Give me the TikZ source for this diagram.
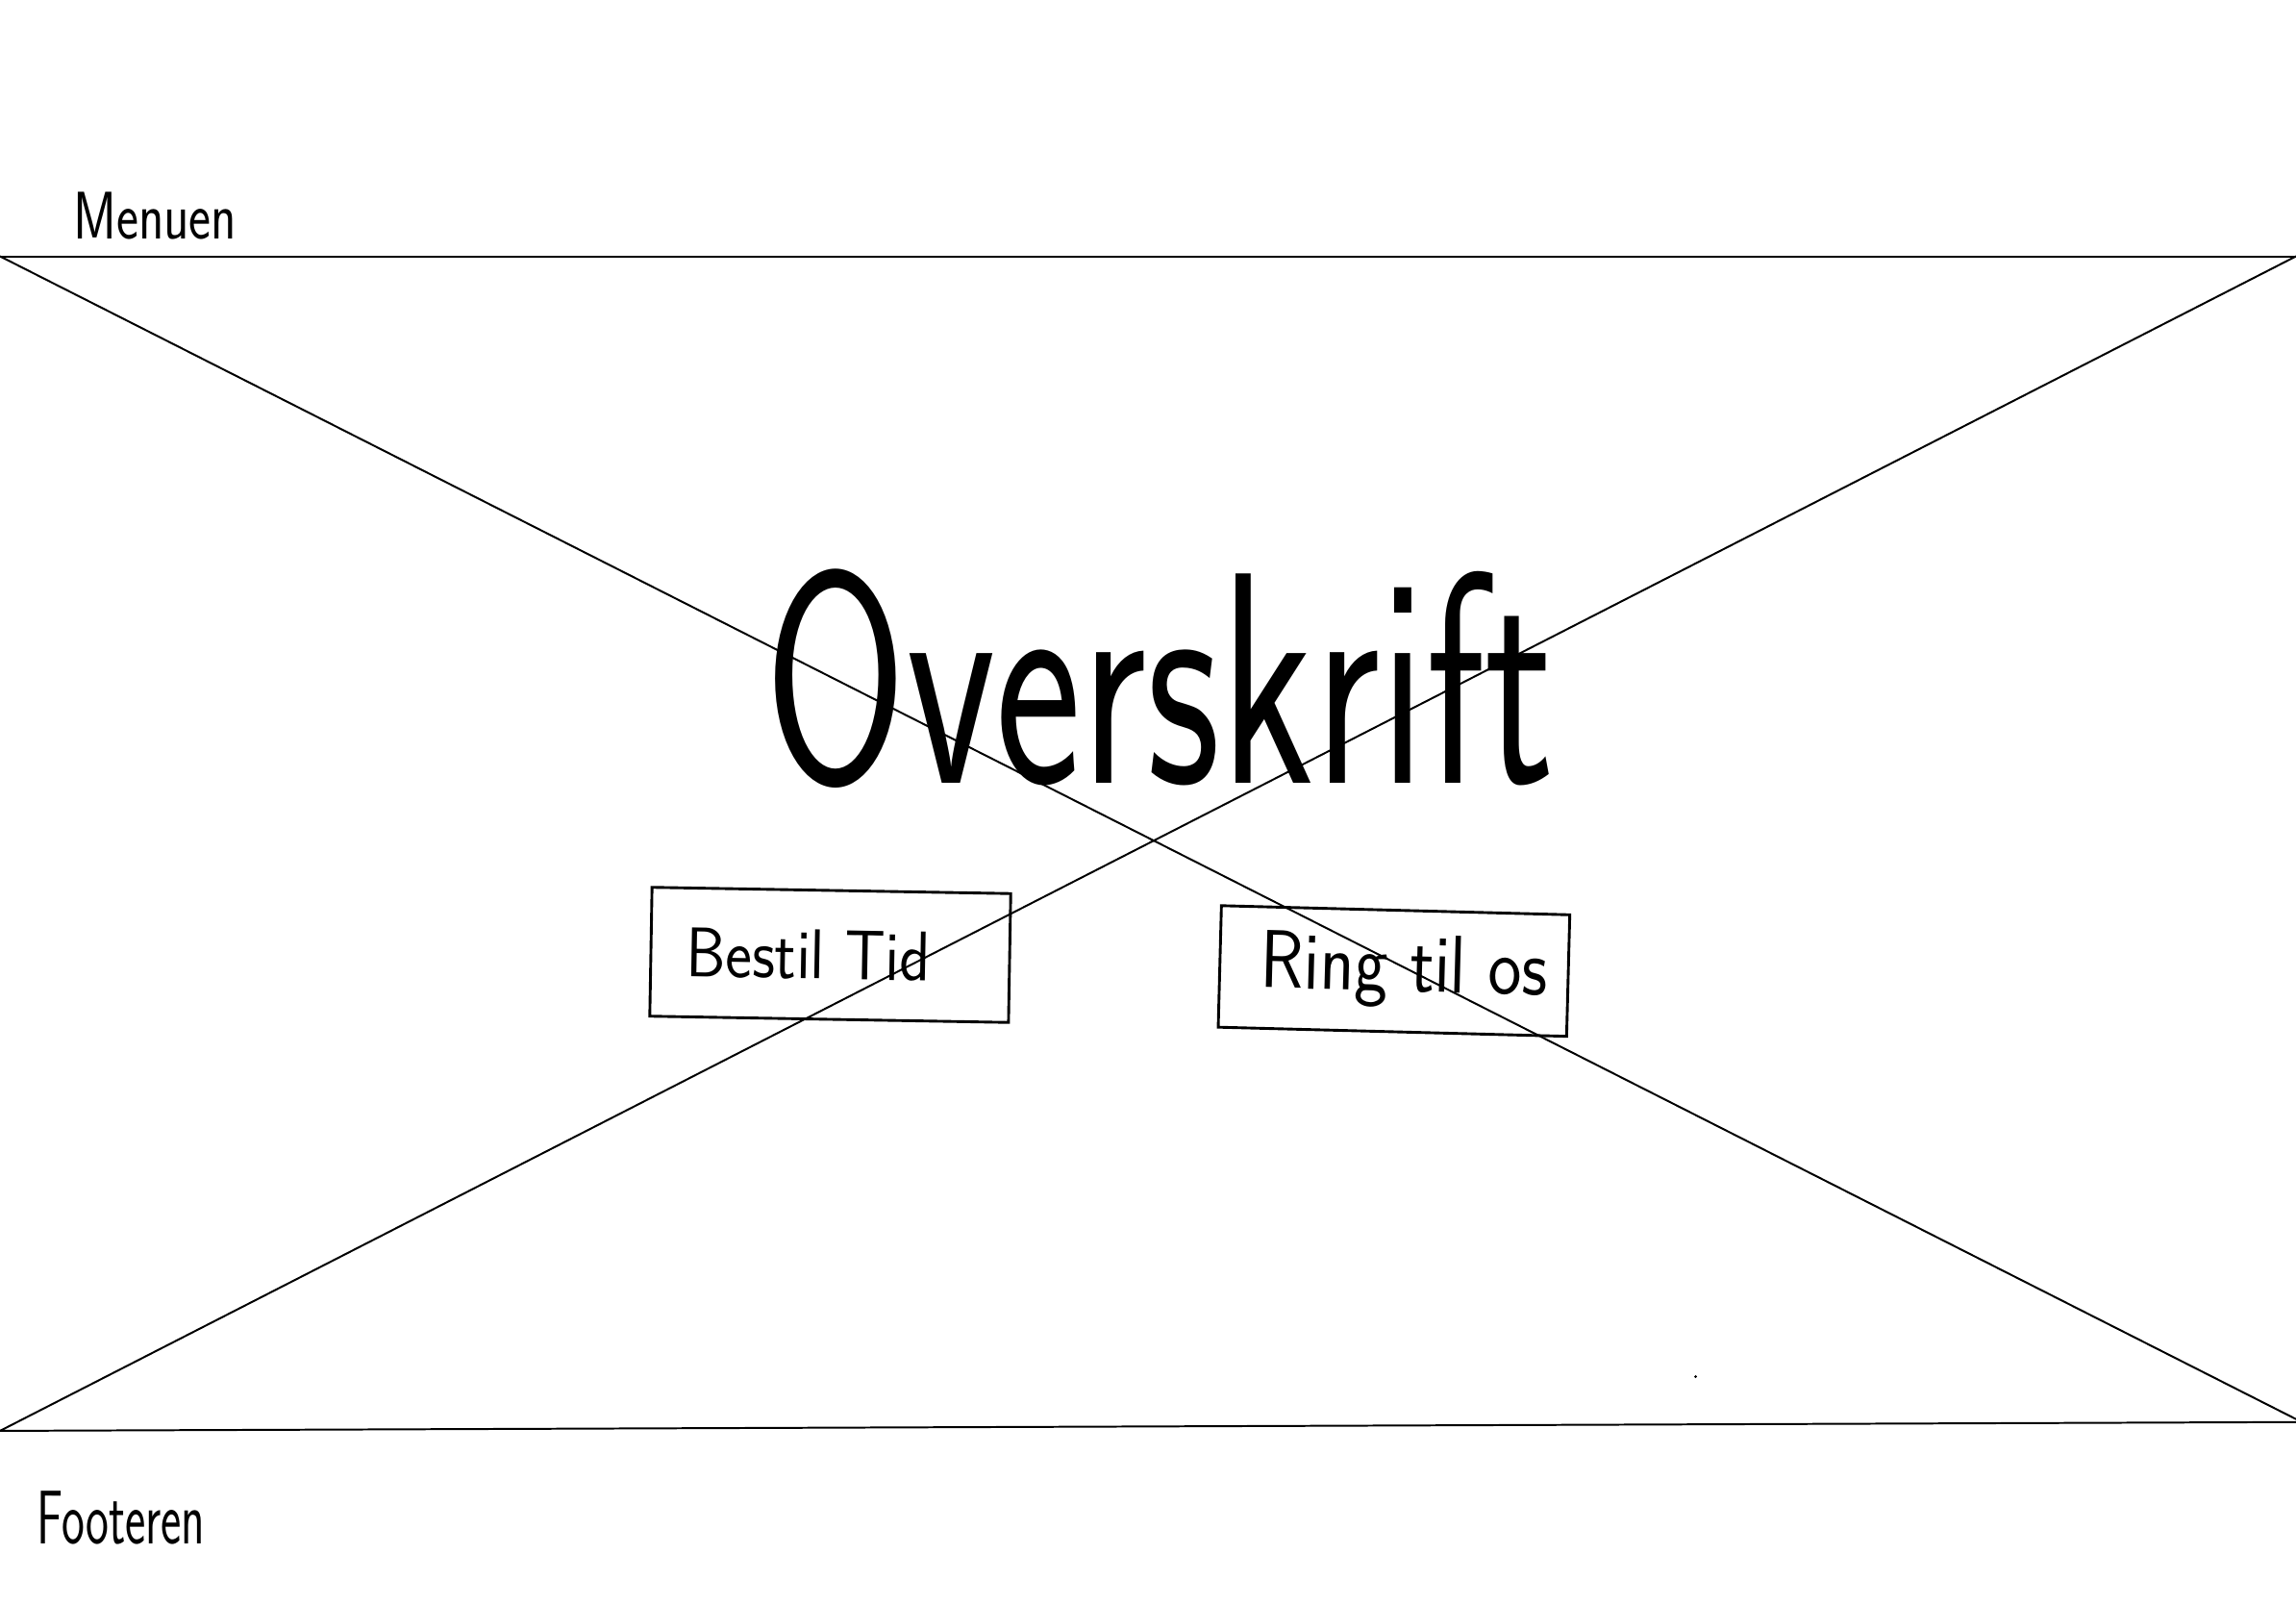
\documentclass[tikz,border=0pt]{standalone}
\usepackage{fontspec}
\usepackage{graphicx}
\usetikzlibrary{positioning}
\newcommand{\narrow}[2]{\scalebox{#1}[1]{#2}}
\tikzset{
  fx/.style={x=1pt, y=-1pt},
  w line/.style={line width=1.3pt, line cap=round},
  w btn/.style={draw, line width=1.9pt, inner sep=0pt, font=\sffamily},
  w txt/.style={inner sep=0pt, anchor=base west, font=\sffamily},
}

\begin{document}
\begin{tikzpicture}[fx]
\useasboundingbox (0,0) rectangle (1568,1095);
\coordinate (tl) at (0,175); \coordinate (tr) at (1568,175);
\coordinate (bl) at (0,977); \coordinate (br) at (1568,971); \coordinate (dr) at (1568,969);
\draw[w line] (tl) -- (tr); \draw[w line] (bl) -- (br);
\draw[w line] (tl) -- (dr); \draw[w line] (bl) -- (tr);
\node[w txt] (menu) at (50,163) {\fontsize{46}{46}\selectfont\narrow{0.78}{Menuen}};
\node[w txt] (head) at (522,535) {\fontsize{206}{206}\selectfont\narrow{0.68}{Overskrift}};
\node[w btn, minimum width=245pt, minimum height=88pt, rotate=-1] (book) at (567,652) {\fontsize{48}{48}\selectfont\narrow{0.90}{Bestil Tid}\kern30pt};
\node[w btn, minimum width=238pt, minimum height=83pt, rotate=-1.5] (call) at (952,663) {\fontsize{56}{56}\selectfont\hspace{14pt}\raisebox{-6pt}{\narrow{0.87}{Ring til os}}};
\node[w txt] (foot) at (25,1054) {\fontsize{52}{52}\selectfont\narrow{0.64}{Footeren}};
\fill (1158,940) circle (1pt);
\end{tikzpicture}
\end{document}
